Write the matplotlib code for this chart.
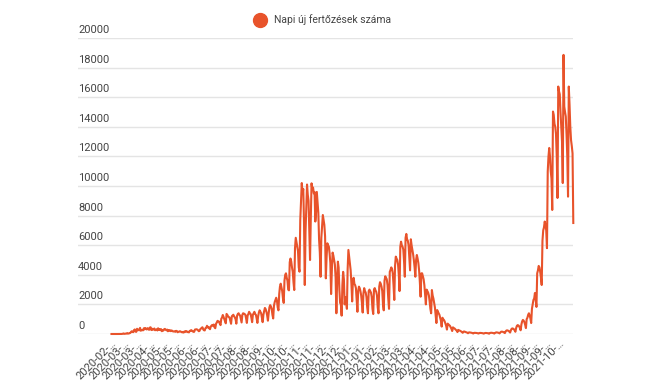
import matplotlib
matplotlib.use("Agg")
import matplotlib.pyplot as plt
import matplotlib.transforms as mtransforms
from matplotlib.lines import Line2D
import numpy as np

plt.rcParams["font.family"] = ["Roboto", "DejaVu Sans"]

series_name = "Napi új fertőzések száma"

# daily new cases, one row per week (Wed..Tue), starting 2020-02-26
daily_cases = [
    1, 0, 2, 0, 0, 0, 0,
    1, 2, 1, 2, 6, 0, 10,
    4, 18, 40, 11, 15, 29, 26,
    62, 31, 31, 59, 66, 143, 186,
    144, 123, 263, 308, 160, 146, 353,
    249, 291, 252, 414, 220, 260, 272,
    246, 385, 313, 404, 341, 304, 396,
    344, 281, 434, 456, 266, 357, 289,
    317, 371, 251, 283, 320, 239, 386,
    283, 322, 256, 327, 190, 240, 232,
    320, 345, 287, 250, 298, 185, 268,
    226, 249, 190, 240, 205, 168, 175,
    184, 147, 211, 198, 118, 150, 160,
    188, 160, 137, 112, 140, 96, 172,
    141, 196, 190, 130, 139, 108, 210,
    215, 263, 222, 189, 141, 151, 300,
    312, 320, 301, 260, 190, 203, 320,
    365, 422, 455, 310, 254, 240, 400,
    420, 555, 440, 480, 378, 325, 498,
    566, 614, 555, 640, 450, 390, 685,
    777, 889, 860, 840, 698, 600, 1030,
    1112, 1284, 1153, 1000, 859, 720, 1356,
    1295, 1180, 1150, 1100, 900, 690, 1200,
    1245, 1300, 1200, 1120, 1000, 700, 1240,
    1350, 1400, 1300, 1250, 1000, 780, 1300,
    1400, 1380, 1350, 1300, 1050, 750, 1250,
    1350, 1500, 1400, 1350, 1100, 800, 1300,
    1400, 1500, 1350, 1300, 1050, 750, 1200,
    1450, 1600, 1500, 1400, 1100, 800, 1300,
    1550, 1760, 1680, 1500, 1250, 900, 1400,
    1800, 1950, 1850, 1700, 1300, 1050, 1900,
    2150, 2300, 2450, 2250, 1800, 1600, 2700,
    3200, 3400, 3130, 2900, 2400, 2100, 3600,
    4000, 4100, 3800, 3600, 3000, 2950, 4850,
    5100, 4900, 4500, 4200, 3500, 2970, 5800,
    6500, 6200, 5900, 5600, 4500, 4210, 7700,
    9000, 10200, 9500, 9800, 7500, 3310, 6900,
    8500, 10100, 9400, 9000, 7000, 5000, 7800,
    10180, 9800, 9900, 9500, 9600, 7600, 8200,
    9600, 8900, 8200, 6400, 5500, 3870, 6500,
    7300, 8040, 7700, 7370, 6600, 3760, 5200,
    6130, 6000, 5900, 5450, 4800, 2700, 4300,
    5500, 5300, 5000, 4700, 3800, 1400, 3500,
    4890, 4500, 3000, 2100, 2000, 1240, 3300,
    4200, 3700, 2000, 2500, 2200, 1700, 4400,
    5680, 5200, 4770, 4300, 3400, 2200, 3650,
    3800, 3380, 3300, 3100, 2300, 1500, 2900,
    3200, 3100, 2900, 2600, 2100, 1450, 2750,
    3100, 2900, 2800, 2500, 1800, 1400, 2900,
    3000, 2900, 2800, 2500, 1700, 1350, 3000,
    3100, 2950, 2850, 2600, 1800, 1400, 3200,
    3500, 3400, 3200, 2900, 2000, 1600, 3600,
    3900, 3800, 3700, 3300, 2400, 1700, 4200,
    4330, 4500, 4400, 4100, 3300, 2300, 4600,
    5230, 5100, 5000, 4700, 4000, 2900, 5900,
    6240, 6000, 5900, 5700, 4900, 3870, 6500,
    6760, 6400, 6300, 6000, 5100, 4300, 6400,
    6000, 5700, 5400, 5000, 4500, 3870, 5000,
    5340, 5100, 4800, 4300, 3500, 2520, 4100,
    4100, 3900, 3700, 3300, 2600, 2000, 3000,
    2900, 2800, 2600, 2200, 1700, 1400, 2970,
    2600, 2400, 2100, 1800, 1300, 740, 1620,
    1500, 1400, 1300, 1100, 900, 500, 1100,
    1000, 950, 850, 700, 550, 300, 700,
    650, 600, 550, 450, 350, 200, 450,
    400, 380, 330, 280, 220, 130, 280,
    250, 230, 200, 170, 130, 80, 160,
    170, 150, 130, 110, 90, 50, 100,
    110, 100, 90, 80, 60, 35, 70,
    80, 75, 70, 65, 50, 30, 60,
    75, 70, 65, 60, 45, 25, 55,
    70, 70, 65, 55, 45, 20, 60,
    80, 85, 80, 70, 55, 30, 70,
    100, 110, 100, 90, 70, 40, 110,
    150, 160, 150, 130, 100, 60, 170,
    230, 250, 230, 210, 160, 100, 250,
    350, 380, 360, 320, 250, 150, 400,
    550, 600, 580, 520, 400, 250, 650,
    850, 950, 900, 800, 620, 400, 1000,
    1100, 1300, 1400, 1250, 1050, 740, 1700,
    2000, 2300, 2400, 2770, 2300, 1830, 4100,
    4300, 4600, 4500, 4200, 3800, 3310, 6300,
    7000, 7200, 7600, 7400, 7000, 5800, 10970,
    11990, 12570, 12000, 11000, 10500, 8380, 15030,
    14800, 14200, 14000, 13500, 12000, 9190, 16720,
    16400, 16200, 15000, 14000, 13000, 10200, 18860,
    15370, 15000, 14700, 13500, 12000, 9280, 16720,
    15500, 14000, 13100, 12700, 12200, 7500,
]

# every 17th day is labelled on the category axis
tick_dates = [
    "2020-02-26", "2020-03-14", "2020-03-31", "2020-04-17", "2020-05-04",
    "2020-05-21", "2020-06-07", "2020-06-24", "2020-07-11", "2020-07-28",
    "2020-08-14", "2020-08-31", "2020-09-17", "2020-10-04", "2020-10-21",
    "2020-11-07", "2020-11-24", "2020-12-11", "2020-12-28", "2021-01-14",
    "2021-01-31", "2021-02-17", "2021-03-06", "2021-03-23", "2021-04-09",
    "2021-04-26", "2021-05-13", "2021-05-30", "2021-06-16", "2021-07-03",
    "2021-07-20", "2021-08-06", "2021-08-23", "2021-09-09", "2021-09-26",
    "2021-10-13",
]
label_step = 17

y_ticks = list(range(0, 20001, 2000))

line_color = "#e8532b"
text_color = "#444444"
grid_color = "#e4e4e4"

fig = plt.figure(figsize=(6.49, 3.85), dpi=100)
ax = fig.add_axes([78 / 649, 1 - 334 / 385, (573.3 - 78) / 649, (334 - 38) / 385])

x = np.arange(len(daily_cases))
ax.plot(x, daily_cases, color=line_color, linewidth=1.5, clip_on=False, zorder=3)

ax.set_ylim(0, 20000)
ax.set_xlim(-44.5, len(daily_cases) - 1)

for s in ax.spines.values():
    s.set_visible(False)

ax.set_yticks(y_ticks)
ax.set_yticklabels([])
ax.tick_params(axis="y", length=0)
ax.grid(axis="y", color=grid_color, linewidth=1.0, zorder=0)
ax.grid(axis="x", visible=False)

label_tr = mtransforms.offset_copy(ax.get_yaxis_transform(), fig=fig, x=0, y=3, units="dots")
for v in y_ticks:
    ax.text(0, v, str(v), transform=label_tr, ha="left", va="bottom",
            fontsize=8, color=text_color)

tick_pos = np.arange(len(tick_dates)) * label_step
ax.set_xticks(tick_pos)
ax.set_xticklabels([d[:8] + "…" for d in tick_dates], rotation=45, ha="right",
                   va="top", rotation_mode="anchor", fontsize=8, color=text_color)
ax.tick_params(axis="x", length=0, pad=3)

handle = Line2D([], [], marker="o", color=line_color, linestyle="none", markersize=10)
fig.legend([handle], [series_name], loc="center", bbox_to_anchor=(0.4977, 0.948),
           frameon=False, fontsize=7.5, labelcolor=text_color,
           handlelength=1.0, handletextpad=0.9)

fig.savefig("out.png", dpi=100)
